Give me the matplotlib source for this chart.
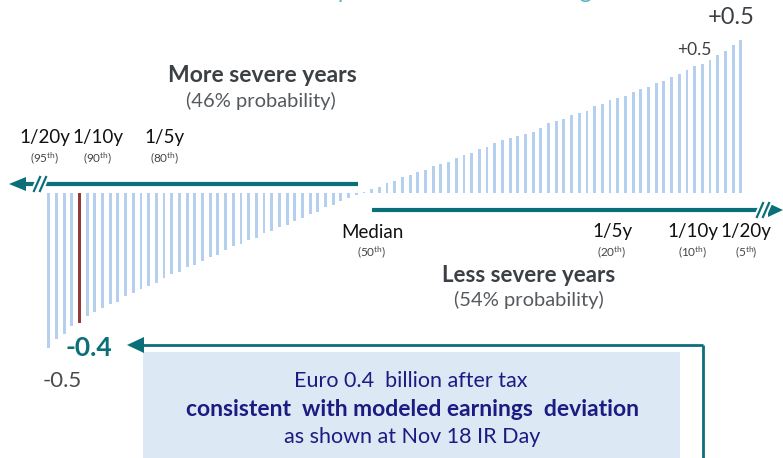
import matplotlib
matplotlib.use("Agg")
import matplotlib.pyplot as plt
import numpy as np

plt.rcParams.update({
    "font.family": ["Lato", "DejaVu Sans"],
    "mathtext.fontset": "custom",
    "mathtext.rm": "Lato",
    "mathtext.it": "Lato:italic",
    "mathtext.bf": "Lato:bold",
})

# Annual earnings deviation per simulated year, ordered from the most severe
# (95th percentile) to the least severe (5th percentile), EUR bn
DEVIATION = [
    -0.500, -0.470, -0.455, -0.430, -0.420, -0.397, -0.384, -0.371, -0.358, -0.352,
    -0.332, -0.323, -0.310, -0.300, -0.290, -0.274, -0.261, -0.255, -0.239, -0.232,
    -0.219, -0.206, -0.200, -0.184, -0.171, -0.165, -0.152, -0.145, -0.129, -0.123,
    -0.110, -0.103, -0.090, -0.081, -0.068, -0.061, -0.045, -0.039, -0.026, -0.016,
    -0.006, 0.003, 0.012, 0.018, 0.031, 0.039, 0.052, 0.059, 0.067, 0.073,
    0.087, 0.094, 0.101, 0.114, 0.122, 0.129, 0.142, 0.148, 0.162, 0.170,
    0.176, 0.184, 0.190, 0.197, 0.211, 0.225, 0.232, 0.239, 0.252, 0.259,
    0.265, 0.280, 0.286, 0.300, 0.306, 0.313, 0.327, 0.335, 0.341, 0.355,
    0.361, 0.375, 0.383, 0.397, 0.410, 0.417, 0.430, 0.445, 0.458, 0.478,
    0.494,
]
HIGHLIGHT = 4  # bar used for the modeled earnings deviation

LEFT_RETURN = ["1/20y", "1/10y", "1/5y"]
LEFT_PCT = ["95", "90", "80"]
RIGHT_RETURN = ["Median", "1/5y", "1/10y", "1/20y"]
RIGHT_PCT = ["50", "20", "10", "5"]

TEAL = "#0B6F7A"
BAR = "#B5CFEF"
RED = "#943A3A"
INK = "#3B4045"
NAVY = "#1B1B82"


def pct(p):
    return "(" + p + r"$^{\rm th}$)"


def break_marks(ax, x0, y):
    for dx in (0, 6):
        ax.plot([x0 + dx - 3.5, x0 + dx + 3.5], [y + 8, y - 8], color="white", lw=4.5,
                solid_capstyle="butt", zorder=4)
    for dx in (0, 6):
        ax.plot([x0 + dx - 3.5, x0 + dx + 3.5], [y + 8, y - 8], color=TEAL, lw=1.6,
                solid_capstyle="butt", zorder=5)


def main() -> None:
    fig = plt.figure(figsize=(7.83, 4.58), dpi=100)

    # bar chart, scaled so the full figure spans the data area
    ax = fig.add_axes([0, 0, 1, 1])
    ax.axis("off")
    x = np.arange(len(DEVIATION))
    colors = [RED if i == HIGHLIGHT else BAR for i in x]
    ax.bar(x, DEVIATION, width=0.37, color=colors, linewidth=0)
    ax.set_xlim(-6.333, 95.49)
    ax.set_ylim(-0.855, 0.6226)

    # annotation layer in pixel coordinates
    ov = fig.add_axes([0, 0, 1, 1])
    ov.set_xlim(0, 783)
    ov.set_ylim(458, 0)
    ov.axis("off")

    # headline sits above the visible area, only its lowest strokes show
    ov.text(392, -2, "Natural catastrophe deviation from budget", color="#5CB6C6",
            fontsize=17, ha="center", va="baseline")

    # more severe arrow (left)
    ov.plot([22, 358], [184, 184], color=TEAL, lw=3, solid_capstyle="butt")
    ov.fill([9, 26, 26], [184, 177, 191], color=TEAL, lw=0)
    break_marks(ov, 37, 184)

    # less severe arrow (right)
    ov.plot([372, 772], [210, 210], color=TEAL, lw=3, solid_capstyle="butt")
    ov.fill([783, 768, 768], [210, 203, 217], color=TEAL, lw=0)
    break_marks(ov, 760, 210)

    ov.text(262, 76, "More severe years", fontsize=16.5, fontweight="bold", color=INK,
            ha="center", va="center")
    ov.text(261, 101, "(46% probability)", fontsize=14.5, color="#555a5f",
            ha="center", va="center")
    ov.text(529, 276, "Less severe years", fontsize=16, fontweight="bold", color=INK,
            ha="center", va="center")
    ov.text(529, 300, "(54% probability)", fontsize=14.5, color="#555a5f",
            ha="center", va="center")

    for lab, p, px in zip(LEFT_RETURN, LEFT_PCT, [45, 98, 165]):
        ov.text(px, 137, lab, fontsize=13.5, color="#111", ha="center", va="center")
        ov.text(px, 158, pct(p), fontsize=8.5, color="#444", ha="center", va="center")
    for lab, p, px in zip(RIGHT_RETURN, RIGHT_PCT, [372, 612, 693, 746]):
        ov.text(px, 232, lab, fontsize=13.5, color="#111", ha="center", va="center")
        ov.text(px, 252, pct(p), fontsize=8.5, color="#444", ha="center", va="center")

    # value labels taken from the bars they refer to
    ov.text(731, 18, f"{DEVIATION[-1]:+.1f}", fontsize=17, color=INK, ha="center", va="center")
    ov.text(694, 50, f"{DEVIATION[-2]:+.1f}", fontsize=12.5, color=INK, ha="center", va="center")
    ov.text(62, 381, f"{DEVIATION[0]:.1f}", fontsize=16, color="#4a4a4a", ha="center", va="center")
    ov.text(89, 348, f"{DEVIATION[HIGHLIGHT]:.1f}", fontsize=19, fontweight="bold", color=TEAL,
            ha="center", va="center")

    # call-out box with connector
    ov.add_patch(plt.Rectangle((143, 352), 537, 110, color="#DDE8F5", lw=0))
    ov.plot([703, 703], [460, 345], color=TEAL, lw=2, solid_capstyle="butt")
    ov.plot([703, 140], [345, 345], color=TEAL, lw=2, solid_capstyle="butt")
    ov.fill([127, 144, 144], [345, 337, 353], color=TEAL, lw=0)

    ov.text(411, 381, "Euro 0.4  billion after tax", fontsize=15.5, color=NAVY,
            ha="center", va="center")
    ov.text(412, 409, "consistent  with modeled earnings  deviation", fontsize=16.5,
            fontweight="bold", color=NAVY, ha="center", va="center")
    ov.text(412, 437, "as shown at Nov 18 IR Day", fontsize=15.5, color=NAVY,
            ha="center", va="center")

    fig.savefig("out.png", dpi=100)


if __name__ == "__main__":
    main()
